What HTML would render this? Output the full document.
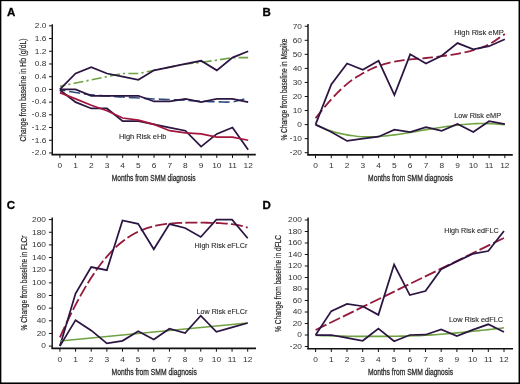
<!DOCTYPE html><html><head><meta charset="utf-8"><style>html,body{margin:0;padding:0;background:#fff;width:520px;height:384px;overflow:hidden}svg{display:block;will-change:transform}text{font-family:"Liberation Sans", sans-serif}</style></head><body>
<svg width="520" height="384" viewBox="0 0 520 384">
<rect width="520" height="384" fill="#fff"/>
<line x1="52.3" y1="24.3" x2="52.3" y2="155.15" stroke="#111" stroke-width="1.45"/>
<line x1="51.65" y1="154.65" x2="255.8" y2="154.65" stroke="#111" stroke-width="1.6"/>
<line x1="49" y1="25.84" x2="52.3" y2="25.84" stroke="#111" stroke-width="1"/>
<text transform="translate(46.5,28.09) scale(1,0.86)" font-size="8.4" text-anchor="end" fill="#333">2.0</text>
<line x1="49" y1="38.55" x2="52.3" y2="38.55" stroke="#111" stroke-width="1"/>
<text transform="translate(46.5,40.8) scale(1,0.86)" font-size="8.4" text-anchor="end" fill="#333">1.6</text>
<line x1="49" y1="51.26" x2="52.3" y2="51.26" stroke="#111" stroke-width="1"/>
<text transform="translate(46.5,53.51) scale(1,0.86)" font-size="8.4" text-anchor="end" fill="#333">1.2</text>
<line x1="49" y1="63.98" x2="52.3" y2="63.98" stroke="#111" stroke-width="1"/>
<text transform="translate(46.5,66.23) scale(1,0.86)" font-size="8.4" text-anchor="end" fill="#333">0.8</text>
<line x1="49" y1="76.69" x2="52.3" y2="76.69" stroke="#111" stroke-width="1"/>
<text transform="translate(46.5,78.94) scale(1,0.86)" font-size="8.4" text-anchor="end" fill="#333">0.4</text>
<line x1="49" y1="89.4" x2="52.3" y2="89.4" stroke="#111" stroke-width="1"/>
<text transform="translate(46.5,91.65) scale(1,0.86)" font-size="8.4" text-anchor="end" fill="#333">0.0</text>
<line x1="49" y1="102.11" x2="52.3" y2="102.11" stroke="#111" stroke-width="1"/>
<text transform="translate(46.5,104.36) scale(1,0.86)" font-size="8.4" text-anchor="end" fill="#333"><tspan font-size="6.2" dy="-1.25" stroke="#333" stroke-width="0.25">-</tspan><tspan dx="0.7" dy="1.25">0.4</tspan></text>
<line x1="49" y1="114.82" x2="52.3" y2="114.82" stroke="#111" stroke-width="1"/>
<text transform="translate(46.5,117.07) scale(1,0.86)" font-size="8.4" text-anchor="end" fill="#333"><tspan font-size="6.2" dy="-1.25" stroke="#333" stroke-width="0.25">-</tspan><tspan dx="0.7" dy="1.25">0.8</tspan></text>
<line x1="49" y1="127.54" x2="52.3" y2="127.54" stroke="#111" stroke-width="1"/>
<text transform="translate(46.5,129.79) scale(1,0.86)" font-size="8.4" text-anchor="end" fill="#333"><tspan font-size="6.2" dy="-1.25" stroke="#333" stroke-width="0.25">-</tspan><tspan dx="0.7" dy="1.25">1.2</tspan></text>
<line x1="49" y1="140.25" x2="52.3" y2="140.25" stroke="#111" stroke-width="1"/>
<text transform="translate(46.5,142.5) scale(1,0.86)" font-size="8.4" text-anchor="end" fill="#333"><tspan font-size="6.2" dy="-1.25" stroke="#333" stroke-width="0.25">-</tspan><tspan dx="0.7" dy="1.25">1.6</tspan></text>
<line x1="49" y1="152.96" x2="52.3" y2="152.96" stroke="#111" stroke-width="1"/>
<text transform="translate(46.5,155.21) scale(1,0.86)" font-size="8.4" text-anchor="end" fill="#333"><tspan font-size="6.2" dy="-1.25" stroke="#333" stroke-width="0.25">-</tspan><tspan dx="0.7" dy="1.25">2.0</tspan></text>
<line x1="59.9" y1="154.65" x2="59.9" y2="157.95" stroke="#111" stroke-width="1"/>
<text transform="translate(59.9,168) scale(1,0.86)" font-size="8.4" text-anchor="middle" fill="#333">0</text>
<line x1="75.59" y1="154.65" x2="75.59" y2="157.95" stroke="#111" stroke-width="1"/>
<text transform="translate(75.59,168) scale(1,0.86)" font-size="8.4" text-anchor="middle" fill="#333">1</text>
<line x1="91.28" y1="154.65" x2="91.28" y2="157.95" stroke="#111" stroke-width="1"/>
<text transform="translate(91.28,168) scale(1,0.86)" font-size="8.4" text-anchor="middle" fill="#333">2</text>
<line x1="106.97" y1="154.65" x2="106.97" y2="157.95" stroke="#111" stroke-width="1"/>
<text transform="translate(106.97,168) scale(1,0.86)" font-size="8.4" text-anchor="middle" fill="#333">3</text>
<line x1="122.66" y1="154.65" x2="122.66" y2="157.95" stroke="#111" stroke-width="1"/>
<text transform="translate(122.66,168) scale(1,0.86)" font-size="8.4" text-anchor="middle" fill="#333">4</text>
<line x1="138.35" y1="154.65" x2="138.35" y2="157.95" stroke="#111" stroke-width="1"/>
<text transform="translate(138.35,168) scale(1,0.86)" font-size="8.4" text-anchor="middle" fill="#333">5</text>
<line x1="154.04" y1="154.65" x2="154.04" y2="157.95" stroke="#111" stroke-width="1"/>
<text transform="translate(154.04,168) scale(1,0.86)" font-size="8.4" text-anchor="middle" fill="#333">6</text>
<line x1="169.73" y1="154.65" x2="169.73" y2="157.95" stroke="#111" stroke-width="1"/>
<text transform="translate(169.73,168) scale(1,0.86)" font-size="8.4" text-anchor="middle" fill="#333">7</text>
<line x1="185.42" y1="154.65" x2="185.42" y2="157.95" stroke="#111" stroke-width="1"/>
<text transform="translate(185.42,168) scale(1,0.86)" font-size="8.4" text-anchor="middle" fill="#333">8</text>
<line x1="201.11" y1="154.65" x2="201.11" y2="157.95" stroke="#111" stroke-width="1"/>
<text transform="translate(201.11,168) scale(1,0.86)" font-size="8.4" text-anchor="middle" fill="#333">9</text>
<line x1="216.8" y1="154.65" x2="216.8" y2="157.95" stroke="#111" stroke-width="1"/>
<text transform="translate(216.8,168) scale(1,0.86)" font-size="8.4" text-anchor="middle" fill="#333">10</text>
<line x1="232.49" y1="154.65" x2="232.49" y2="157.95" stroke="#111" stroke-width="1"/>
<text transform="translate(232.49,168) scale(1,0.86)" font-size="8.4" text-anchor="middle" fill="#333">11</text>
<line x1="248.18" y1="154.65" x2="248.18" y2="157.95" stroke="#111" stroke-width="1"/>
<text transform="translate(248.18,168) scale(1,0.86)" font-size="8.4" text-anchor="middle" fill="#333">12</text>
<text x="6.9" y="15.8" font-size="11.5" text-anchor="start" font-weight="bold" fill="#000" stroke="#000" stroke-width="0.3">A</text>
<polyline points="59.9,86.22 75.59,83.04 91.28,79.87 106.97,76.69 122.66,73.51 138.35,73.51 154.04,70.33 169.73,67.15 185.42,63.98 201.11,62.39 216.8,60.16 232.49,57.62 248.18,57.62" fill="none" stroke="#70a243" stroke-width="1.6" stroke-linejoin="miter" stroke-miterlimit="10" stroke-dasharray="10,3.2,2.2,3.2" stroke-dashoffset="4.7"/>
<polyline points="59.9,89.4 75.59,73.51 91.28,67.15 106.97,73.51 122.66,76.69 138.35,79.87 154.04,70.33 169.73,67.15 185.42,63.98 201.11,60.8 216.8,70.33 232.49,57.62 248.18,51.26" fill="none" stroke="#2c1542" stroke-width="1.75" stroke-linejoin="miter" stroke-miterlimit="10" />
<polyline points="59.9,89.72 63.04,90.3 66.18,90.89 69.31,91.48 72.45,92.05 75.59,92.58 78.73,93.08 81.87,93.56 85,94.01 88.14,94.43 91.28,94.8 94.42,95.12 97.56,95.39 100.69,95.63 103.83,95.86 106.97,96.07 110.11,96.28 113.25,96.48 116.38,96.66 119.52,96.84 122.66,97.03 125.8,97.22 128.94,97.41 132.07,97.6 135.21,97.79 138.35,97.98 141.49,98.18 144.63,98.38 147.76,98.58 150.9,98.76 154.04,98.93 157.18,99.08 160.32,99.21 163.45,99.33 166.59,99.45 169.73,99.57 172.87,99.69 176.01,99.81 179.14,99.93 182.28,100.06 185.42,100.21 188.56,100.38 191.7,100.58 194.83,100.78 197.97,100.98 201.11,101.16 204.25,101.32 207.39,101.47 210.52,101.6 213.66,101.71 216.8,101.79 219.94,101.9 223.08,102.02 226.21,102.1 229.35,102.05 232.49,101.79 235.63,101.28 238.77,100.54 241.9,99.69 245.04,98.8 248.18,97.98" fill="none" stroke="#2f4b7c" stroke-width="1.6" stroke-linejoin="miter" stroke-miterlimit="10" stroke-dasharray="11,4" stroke-dashoffset="5.6"/>
<polyline points="59.9,89.4 75.59,89.4 91.28,95.76 106.97,95.76 122.66,95.76 138.35,95.76 154.04,101.48 169.73,101.48 185.42,98.93 201.11,102.11 216.8,98.93 232.49,98.93 248.18,102.11" fill="none" stroke="#2c1542" stroke-width="1.75" stroke-linejoin="miter" stroke-miterlimit="10" />
<polyline points="59.9,90.04 75.59,102.11 91.28,108.47 106.97,108.47 122.66,121.18 138.35,121.18 154.04,124.36 169.73,127.54 185.42,130.71 201.11,146.6 216.8,133.89 232.49,127.54 248.18,149.78" fill="none" stroke="#2c1542" stroke-width="1.75" stroke-linejoin="miter" stroke-miterlimit="10" />
<polyline points="59.9,92.58 75.59,98.93 91.28,105.29 106.97,110.69 122.66,118 138.35,120.23 154.04,124.36 169.73,130.71 185.42,132.94 201.11,133.89 216.8,137.07 232.49,137.07 248.18,140.25" fill="none" stroke="#a3173d" stroke-width="1.75" stroke-linejoin="miter" stroke-miterlimit="10" />
<text x="118.9" y="138.6" font-size="7.6" text-anchor="start" font-weight="normal" fill="#2a2a2a" textLength="47.6" lengthAdjust="spacingAndGlyphs" stroke="#2a2a2a" stroke-width="0.12">High Risk eHb</text>
<text transform="translate(26.1,90.1) rotate(-90)" font-size="9.3" text-anchor="middle" fill="#2a2a2a" stroke="#2a2a2a" stroke-width="0.22" textLength="103" lengthAdjust="spacingAndGlyphs">Change from baseline in Hb (g/dL)</text>
<text x="153.6" y="181.4" font-size="9.7" text-anchor="middle" font-weight="normal" fill="#2a2a2a" textLength="83.8" lengthAdjust="spacingAndGlyphs" stroke="#2a2a2a" stroke-width="0.3">Months from SMM diagnosis</text>
<line x1="308" y1="23.9" x2="308" y2="155.35" stroke="#111" stroke-width="1.45"/>
<line x1="307.35" y1="154.85" x2="512.8" y2="154.85" stroke="#111" stroke-width="1.6"/>
<line x1="304.7" y1="26.25" x2="308" y2="26.25" stroke="#111" stroke-width="1"/>
<text transform="translate(302,28.5) scale(1,0.86)" font-size="8.4" text-anchor="end" fill="#333">70</text>
<line x1="304.7" y1="40.3" x2="308" y2="40.3" stroke="#111" stroke-width="1"/>
<text transform="translate(302,42.55) scale(1,0.86)" font-size="8.4" text-anchor="end" fill="#333">60</text>
<line x1="304.7" y1="54.35" x2="308" y2="54.35" stroke="#111" stroke-width="1"/>
<text transform="translate(302,56.6) scale(1,0.86)" font-size="8.4" text-anchor="end" fill="#333">50</text>
<line x1="304.7" y1="68.4" x2="308" y2="68.4" stroke="#111" stroke-width="1"/>
<text transform="translate(302,70.65) scale(1,0.86)" font-size="8.4" text-anchor="end" fill="#333">40</text>
<line x1="304.7" y1="82.45" x2="308" y2="82.45" stroke="#111" stroke-width="1"/>
<text transform="translate(302,84.7) scale(1,0.86)" font-size="8.4" text-anchor="end" fill="#333">30</text>
<line x1="304.7" y1="96.5" x2="308" y2="96.5" stroke="#111" stroke-width="1"/>
<text transform="translate(302,98.75) scale(1,0.86)" font-size="8.4" text-anchor="end" fill="#333">20</text>
<line x1="304.7" y1="110.55" x2="308" y2="110.55" stroke="#111" stroke-width="1"/>
<text transform="translate(302,112.8) scale(1,0.86)" font-size="8.4" text-anchor="end" fill="#333">10</text>
<line x1="304.7" y1="124.6" x2="308" y2="124.6" stroke="#111" stroke-width="1"/>
<text transform="translate(302,126.85) scale(1,0.86)" font-size="8.4" text-anchor="end" fill="#333">0</text>
<line x1="304.7" y1="138.65" x2="308" y2="138.65" stroke="#111" stroke-width="1"/>
<text transform="translate(302,140.9) scale(1,0.86)" font-size="8.4" text-anchor="end" fill="#333"><tspan font-size="6.2" dy="-1.25" stroke="#333" stroke-width="0.25">-</tspan><tspan dx="0.7" dy="1.25">10</tspan></text>
<line x1="304.7" y1="152.7" x2="308" y2="152.7" stroke="#111" stroke-width="1"/>
<text transform="translate(302,154.95) scale(1,0.86)" font-size="8.4" text-anchor="end" fill="#333"><tspan font-size="6.2" dy="-1.25" stroke="#333" stroke-width="0.25">-</tspan><tspan dx="0.7" dy="1.25">20</tspan></text>
<line x1="315.5" y1="154.85" x2="315.5" y2="158.15" stroke="#111" stroke-width="1"/>
<text transform="translate(315.5,168.1) scale(1,0.86)" font-size="8.4" text-anchor="middle" fill="#333">0</text>
<line x1="331.28" y1="154.85" x2="331.28" y2="158.15" stroke="#111" stroke-width="1"/>
<text transform="translate(331.28,168.1) scale(1,0.86)" font-size="8.4" text-anchor="middle" fill="#333">1</text>
<line x1="347.06" y1="154.85" x2="347.06" y2="158.15" stroke="#111" stroke-width="1"/>
<text transform="translate(347.06,168.1) scale(1,0.86)" font-size="8.4" text-anchor="middle" fill="#333">2</text>
<line x1="362.84" y1="154.85" x2="362.84" y2="158.15" stroke="#111" stroke-width="1"/>
<text transform="translate(362.84,168.1) scale(1,0.86)" font-size="8.4" text-anchor="middle" fill="#333">3</text>
<line x1="378.62" y1="154.85" x2="378.62" y2="158.15" stroke="#111" stroke-width="1"/>
<text transform="translate(378.62,168.1) scale(1,0.86)" font-size="8.4" text-anchor="middle" fill="#333">4</text>
<line x1="394.4" y1="154.85" x2="394.4" y2="158.15" stroke="#111" stroke-width="1"/>
<text transform="translate(394.4,168.1) scale(1,0.86)" font-size="8.4" text-anchor="middle" fill="#333">5</text>
<line x1="410.18" y1="154.85" x2="410.18" y2="158.15" stroke="#111" stroke-width="1"/>
<text transform="translate(410.18,168.1) scale(1,0.86)" font-size="8.4" text-anchor="middle" fill="#333">6</text>
<line x1="425.96" y1="154.85" x2="425.96" y2="158.15" stroke="#111" stroke-width="1"/>
<text transform="translate(425.96,168.1) scale(1,0.86)" font-size="8.4" text-anchor="middle" fill="#333">7</text>
<line x1="441.74" y1="154.85" x2="441.74" y2="158.15" stroke="#111" stroke-width="1"/>
<text transform="translate(441.74,168.1) scale(1,0.86)" font-size="8.4" text-anchor="middle" fill="#333">8</text>
<line x1="457.52" y1="154.85" x2="457.52" y2="158.15" stroke="#111" stroke-width="1"/>
<text transform="translate(457.52,168.1) scale(1,0.86)" font-size="8.4" text-anchor="middle" fill="#333">9</text>
<line x1="473.3" y1="154.85" x2="473.3" y2="158.15" stroke="#111" stroke-width="1"/>
<text transform="translate(473.3,168.1) scale(1,0.86)" font-size="8.4" text-anchor="middle" fill="#333">10</text>
<line x1="489.08" y1="154.85" x2="489.08" y2="158.15" stroke="#111" stroke-width="1"/>
<text transform="translate(489.08,168.1) scale(1,0.86)" font-size="8.4" text-anchor="middle" fill="#333">11</text>
<line x1="504.86" y1="154.85" x2="504.86" y2="158.15" stroke="#111" stroke-width="1"/>
<text transform="translate(504.86,168.1) scale(1,0.86)" font-size="8.4" text-anchor="middle" fill="#333">12</text>
<text x="262.4" y="15.75" font-size="11.5" text-anchor="start" font-weight="bold" fill="#000" stroke="#000" stroke-width="0.3">B</text>
<polyline points="315.5,118.28 318.66,114.43 321.81,110.52 324.97,106.64 328.12,102.88 331.28,99.31 334.44,95.92 337.59,92.64 340.75,89.51 343.9,86.58 347.06,83.85 350.22,81.38 353.37,79.14 356.53,77.07 359.68,75.15 362.84,73.32 366,71.58 369.15,69.96 372.31,68.47 375.46,67.1 378.62,65.87 381.78,64.79 384.93,63.86 388.09,63.05 391.24,62.32 394.4,61.66 397.56,61.07 400.71,60.57 403.87,60.15 407.02,59.77 410.18,59.41 413.34,59.08 416.49,58.81 419.65,58.55 422.8,58.3 425.96,58 429.12,57.67 432.27,57.33 435.43,56.97 438.58,56.58 441.74,56.18 444.9,55.75 448.05,55.32 451.21,54.86 454.36,54.36 457.52,53.79 460.68,53.17 463.83,52.53 466.99,51.82 470.14,51.03 473.3,50.13 476.46,49.17 479.61,48.15 482.77,47.02 485.92,45.73 489.08,44.23 492.24,42.46 495.39,40.44 498.55,38.29 501.7,36.1 504.86,33.98" fill="none" stroke="#931a3b" stroke-width="1.8" stroke-linejoin="miter" stroke-miterlimit="10" stroke-dasharray="10.5,3.7" />
<polyline points="315.5,124.6 331.28,84.42 347.06,63.48 362.84,69.8 378.62,60.81 394.4,95.09 410.18,54.35 425.96,63.62 441.74,55.75 457.52,43.11 473.3,49.29 489.08,46.2 504.86,39.32" fill="none" stroke="#2c1542" stroke-width="1.75" stroke-linejoin="miter" stroke-miterlimit="10" />
<polyline points="315.5,124.6 318.66,125.94 321.81,127.31 324.97,128.67 328.12,129.94 331.28,131.06 334.44,132.02 337.59,132.87 340.75,133.61 343.9,134.27 347.06,134.86 350.22,135.38 353.37,135.82 356.53,136.19 359.68,136.48 362.84,136.68 366,136.81 369.15,136.84 372.31,136.8 375.46,136.7 378.62,136.54 381.78,136.32 384.93,136.01 388.09,135.66 391.24,135.26 394.4,134.86 397.56,134.43 400.71,133.97 403.87,133.49 407.02,132.98 410.18,132.47 413.34,131.93 416.49,131.35 419.65,130.77 422.8,130.2 425.96,129.66 429.12,129.15 432.27,128.66 435.43,128.18 438.58,127.72 441.74,127.27 444.9,126.82 448.05,126.37 451.21,125.94 454.36,125.53 457.52,125.16 460.68,124.82 463.83,124.49 466.99,124.19 470.14,123.95 473.3,123.76 476.46,123.63 479.61,123.56 482.77,123.53 485.92,123.55 489.08,123.62 492.24,123.74 495.39,123.93 498.55,124.15 501.7,124.39 504.86,124.6" fill="none" stroke="#70a243" stroke-width="1.6" stroke-linejoin="miter" stroke-miterlimit="10" />
<polyline points="315.5,124.6 331.28,131.91 347.06,140.9 362.84,138.65 378.62,136.68 394.4,129.66 410.18,132.05 425.96,127.27 441.74,130.78 457.52,124.04 473.3,132.05 489.08,121.23 504.86,124.04" fill="none" stroke="#2c1542" stroke-width="1.75" stroke-linejoin="miter" stroke-miterlimit="10" />
<text x="454.2" y="35" font-size="7.6" text-anchor="start" font-weight="normal" fill="#2a2a2a" textLength="49.6" lengthAdjust="spacingAndGlyphs" stroke="#2a2a2a" stroke-width="0.12">High Risk eMP</text>
<text x="454.2" y="117.5" font-size="7.6" text-anchor="start" font-weight="normal" fill="#2a2a2a" textLength="46.9" lengthAdjust="spacingAndGlyphs" stroke="#2a2a2a" stroke-width="0.12">Low Risk eMP</text>
<text transform="translate(286.6,89.6) rotate(-90)" font-size="8.9" text-anchor="middle" fill="#2a2a2a" stroke="#2a2a2a" stroke-width="0.22" textLength="102" lengthAdjust="spacingAndGlyphs">% Change from baseline in Mspike</text>
<text x="410.5" y="181.4" font-size="9.7" text-anchor="middle" font-weight="normal" fill="#2a2a2a" textLength="84.8" lengthAdjust="spacingAndGlyphs" stroke="#2a2a2a" stroke-width="0.3">Months from SMM diagnosis</text>
<line x1="52.2" y1="217.5" x2="52.2" y2="348.9" stroke="#111" stroke-width="1.45"/>
<line x1="51.55" y1="348.4" x2="256" y2="348.4" stroke="#111" stroke-width="1.6"/>
<line x1="48.9" y1="219.6" x2="52.2" y2="219.6" stroke="#111" stroke-width="1"/>
<text transform="translate(46,221.85) scale(1,0.86)" font-size="8.4" text-anchor="end" fill="#333">200</text>
<line x1="48.9" y1="232.25" x2="52.2" y2="232.25" stroke="#111" stroke-width="1"/>
<text transform="translate(46,234.5) scale(1,0.86)" font-size="8.4" text-anchor="end" fill="#333">180</text>
<line x1="48.9" y1="244.9" x2="52.2" y2="244.9" stroke="#111" stroke-width="1"/>
<text transform="translate(46,247.15) scale(1,0.86)" font-size="8.4" text-anchor="end" fill="#333">160</text>
<line x1="48.9" y1="257.55" x2="52.2" y2="257.55" stroke="#111" stroke-width="1"/>
<text transform="translate(46,259.8) scale(1,0.86)" font-size="8.4" text-anchor="end" fill="#333">140</text>
<line x1="48.9" y1="270.2" x2="52.2" y2="270.2" stroke="#111" stroke-width="1"/>
<text transform="translate(46,272.45) scale(1,0.86)" font-size="8.4" text-anchor="end" fill="#333">120</text>
<line x1="48.9" y1="282.85" x2="52.2" y2="282.85" stroke="#111" stroke-width="1"/>
<text transform="translate(46,285.1) scale(1,0.86)" font-size="8.4" text-anchor="end" fill="#333">100</text>
<line x1="48.9" y1="295.5" x2="52.2" y2="295.5" stroke="#111" stroke-width="1"/>
<text transform="translate(46,297.75) scale(1,0.86)" font-size="8.4" text-anchor="end" fill="#333">80</text>
<line x1="48.9" y1="308.15" x2="52.2" y2="308.15" stroke="#111" stroke-width="1"/>
<text transform="translate(46,310.4) scale(1,0.86)" font-size="8.4" text-anchor="end" fill="#333">60</text>
<line x1="48.9" y1="320.8" x2="52.2" y2="320.8" stroke="#111" stroke-width="1"/>
<text transform="translate(46,323.05) scale(1,0.86)" font-size="8.4" text-anchor="end" fill="#333">40</text>
<line x1="48.9" y1="333.45" x2="52.2" y2="333.45" stroke="#111" stroke-width="1"/>
<text transform="translate(46,335.7) scale(1,0.86)" font-size="8.4" text-anchor="end" fill="#333">20</text>
<line x1="48.9" y1="346.1" x2="52.2" y2="346.1" stroke="#111" stroke-width="1"/>
<text transform="translate(46,348.35) scale(1,0.86)" font-size="8.4" text-anchor="end" fill="#333">0</text>
<line x1="59.9" y1="348.4" x2="59.9" y2="351.7" stroke="#111" stroke-width="1"/>
<text transform="translate(59.9,362) scale(1,0.86)" font-size="8.4" text-anchor="middle" fill="#333">0</text>
<line x1="75.55" y1="348.4" x2="75.55" y2="351.7" stroke="#111" stroke-width="1"/>
<text transform="translate(75.55,362) scale(1,0.86)" font-size="8.4" text-anchor="middle" fill="#333">1</text>
<line x1="91.2" y1="348.4" x2="91.2" y2="351.7" stroke="#111" stroke-width="1"/>
<text transform="translate(91.2,362) scale(1,0.86)" font-size="8.4" text-anchor="middle" fill="#333">2</text>
<line x1="106.85" y1="348.4" x2="106.85" y2="351.7" stroke="#111" stroke-width="1"/>
<text transform="translate(106.85,362) scale(1,0.86)" font-size="8.4" text-anchor="middle" fill="#333">3</text>
<line x1="122.5" y1="348.4" x2="122.5" y2="351.7" stroke="#111" stroke-width="1"/>
<text transform="translate(122.5,362) scale(1,0.86)" font-size="8.4" text-anchor="middle" fill="#333">4</text>
<line x1="138.15" y1="348.4" x2="138.15" y2="351.7" stroke="#111" stroke-width="1"/>
<text transform="translate(138.15,362) scale(1,0.86)" font-size="8.4" text-anchor="middle" fill="#333">5</text>
<line x1="153.8" y1="348.4" x2="153.8" y2="351.7" stroke="#111" stroke-width="1"/>
<text transform="translate(153.8,362) scale(1,0.86)" font-size="8.4" text-anchor="middle" fill="#333">6</text>
<line x1="169.45" y1="348.4" x2="169.45" y2="351.7" stroke="#111" stroke-width="1"/>
<text transform="translate(169.45,362) scale(1,0.86)" font-size="8.4" text-anchor="middle" fill="#333">7</text>
<line x1="185.1" y1="348.4" x2="185.1" y2="351.7" stroke="#111" stroke-width="1"/>
<text transform="translate(185.1,362) scale(1,0.86)" font-size="8.4" text-anchor="middle" fill="#333">8</text>
<line x1="200.75" y1="348.4" x2="200.75" y2="351.7" stroke="#111" stroke-width="1"/>
<text transform="translate(200.75,362) scale(1,0.86)" font-size="8.4" text-anchor="middle" fill="#333">9</text>
<line x1="216.4" y1="348.4" x2="216.4" y2="351.7" stroke="#111" stroke-width="1"/>
<text transform="translate(216.4,362) scale(1,0.86)" font-size="8.4" text-anchor="middle" fill="#333">10</text>
<line x1="232.05" y1="348.4" x2="232.05" y2="351.7" stroke="#111" stroke-width="1"/>
<text transform="translate(232.05,362) scale(1,0.86)" font-size="8.4" text-anchor="middle" fill="#333">11</text>
<line x1="247.7" y1="348.4" x2="247.7" y2="351.7" stroke="#111" stroke-width="1"/>
<text transform="translate(247.7,362) scale(1,0.86)" font-size="8.4" text-anchor="middle" fill="#333">12</text>
<text x="6.8" y="209.1" font-size="11.5" text-anchor="start" font-weight="bold" fill="#000" stroke="#000" stroke-width="0.3">C</text>
<polyline points="59.9,337.27 63.03,330.47 66.16,323.82 69.29,317.34 72.42,311.04 75.55,304.93 78.68,299.03 81.81,293.36 84.94,287.91 88.07,282.7 91.2,277.72 94.33,273 97.46,268.52 100.59,264.29 103.72,260.3 106.85,256.57 109.98,253.08 113.11,249.83 116.24,246.81 119.37,244.02 122.5,241.46 125.63,239.11 128.76,236.97 131.89,235.03 135.02,233.28 138.15,231.71 141.28,230.3 144.41,229.06 147.54,227.97 150.67,227.02 153.8,226.19 156.93,225.49 160.06,224.89 163.19,224.38 166.32,223.97 169.45,223.62 172.58,223.35 175.71,223.14 178.84,222.97 181.97,222.85 185.1,222.76 188.23,222.7 191.36,222.67 194.49,222.65 197.62,222.65 200.75,222.67 203.88,222.7 207.01,222.75 210.14,222.81 213.27,222.89 216.4,223 219.53,223.13 222.66,223.31 225.79,223.53 228.92,223.81 232.05,224.17 235.18,224.62 238.31,225.17 241.44,225.85 244.57,226.68 247.7,227.68" fill="none" stroke="#931a3b" stroke-width="1.8" stroke-linejoin="miter" stroke-miterlimit="10" stroke-dasharray="12,3.2" />
<polyline points="59.9,346.1 75.55,293.6 91.2,267.04 106.85,270.2 122.5,220.49 138.15,223.77 153.8,249.33 169.45,224.03 185.1,228.01 200.75,236.99 216.4,219.6 232.05,219.6 247.7,238.26" fill="none" stroke="#2c1542" stroke-width="1.75" stroke-linejoin="miter" stroke-miterlimit="10" />
<polyline points="59.9,341.04 247.7,323.01" fill="none" stroke="#70a243" stroke-width="1.6" stroke-linejoin="miter" stroke-miterlimit="10" />
<polyline points="59.9,346.1 75.55,320.17 91.2,330.41 106.85,343.32 122.5,340.79 138.15,331.24 153.8,339.52 169.45,328.77 185.1,333.01 200.75,315.74 216.4,331.74 232.05,327.38 247.7,323.01" fill="none" stroke="#2c1542" stroke-width="1.75" stroke-linejoin="miter" stroke-miterlimit="10" />
<text x="194.6" y="247.5" font-size="7.6" text-anchor="start" font-weight="normal" fill="#2a2a2a" textLength="52.7" lengthAdjust="spacingAndGlyphs" stroke="#2a2a2a" stroke-width="0.12">High Risk eFLCr</text>
<text x="196.6" y="313.5" font-size="7.6" text-anchor="start" font-weight="normal" fill="#2a2a2a" textLength="50.7" lengthAdjust="spacingAndGlyphs" stroke="#2a2a2a" stroke-width="0.12">Low Risk eFLCr</text>
<text transform="translate(26.8,283) rotate(-90)" font-size="9.3" text-anchor="middle" fill="#2a2a2a" stroke="#2a2a2a" stroke-width="0.22" textLength="95" lengthAdjust="spacingAndGlyphs">% Change from baseline in FLCr</text>
<text x="154.2" y="375.2" font-size="9.7" text-anchor="middle" font-weight="normal" fill="#2a2a2a" textLength="85.3" lengthAdjust="spacingAndGlyphs" stroke="#2a2a2a" stroke-width="0.3">Months from SMM diagnosis</text>
<line x1="308.1" y1="217.5" x2="308.1" y2="349.2" stroke="#111" stroke-width="1.45"/>
<line x1="307.45" y1="348.7" x2="513" y2="348.7" stroke="#111" stroke-width="1.6"/>
<line x1="304.8" y1="220" x2="308.1" y2="220" stroke="#111" stroke-width="1"/>
<text transform="translate(302,222.25) scale(1,0.86)" font-size="8.4" text-anchor="end" fill="#333">200</text>
<line x1="304.8" y1="231.5" x2="308.1" y2="231.5" stroke="#111" stroke-width="1"/>
<text transform="translate(302,233.75) scale(1,0.86)" font-size="8.4" text-anchor="end" fill="#333">180</text>
<line x1="304.8" y1="243" x2="308.1" y2="243" stroke="#111" stroke-width="1"/>
<text transform="translate(302,245.25) scale(1,0.86)" font-size="8.4" text-anchor="end" fill="#333">160</text>
<line x1="304.8" y1="254.5" x2="308.1" y2="254.5" stroke="#111" stroke-width="1"/>
<text transform="translate(302,256.75) scale(1,0.86)" font-size="8.4" text-anchor="end" fill="#333">140</text>
<line x1="304.8" y1="266" x2="308.1" y2="266" stroke="#111" stroke-width="1"/>
<text transform="translate(302,268.25) scale(1,0.86)" font-size="8.4" text-anchor="end" fill="#333">120</text>
<line x1="304.8" y1="277.5" x2="308.1" y2="277.5" stroke="#111" stroke-width="1"/>
<text transform="translate(302,279.75) scale(1,0.86)" font-size="8.4" text-anchor="end" fill="#333">100</text>
<line x1="304.8" y1="289" x2="308.1" y2="289" stroke="#111" stroke-width="1"/>
<text transform="translate(302,291.25) scale(1,0.86)" font-size="8.4" text-anchor="end" fill="#333">80</text>
<line x1="304.8" y1="300.5" x2="308.1" y2="300.5" stroke="#111" stroke-width="1"/>
<text transform="translate(302,302.75) scale(1,0.86)" font-size="8.4" text-anchor="end" fill="#333">60</text>
<line x1="304.8" y1="312" x2="308.1" y2="312" stroke="#111" stroke-width="1"/>
<text transform="translate(302,314.25) scale(1,0.86)" font-size="8.4" text-anchor="end" fill="#333">40</text>
<line x1="304.8" y1="323.5" x2="308.1" y2="323.5" stroke="#111" stroke-width="1"/>
<text transform="translate(302,325.75) scale(1,0.86)" font-size="8.4" text-anchor="end" fill="#333">20</text>
<line x1="304.8" y1="335" x2="308.1" y2="335" stroke="#111" stroke-width="1"/>
<text transform="translate(302,337.25) scale(1,0.86)" font-size="8.4" text-anchor="end" fill="#333">0</text>
<line x1="304.8" y1="346.5" x2="308.1" y2="346.5" stroke="#111" stroke-width="1"/>
<text transform="translate(302,348.75) scale(1,0.86)" font-size="8.4" text-anchor="end" fill="#333"><tspan font-size="6.2" dy="-1.25" stroke="#333" stroke-width="0.25">-</tspan><tspan dx="0.7" dy="1.25">20</tspan></text>
<line x1="315.6" y1="348.7" x2="315.6" y2="352" stroke="#111" stroke-width="1"/>
<text transform="translate(315.6,362) scale(1,0.86)" font-size="8.4" text-anchor="middle" fill="#333">0</text>
<line x1="331.3" y1="348.7" x2="331.3" y2="352" stroke="#111" stroke-width="1"/>
<text transform="translate(331.3,362) scale(1,0.86)" font-size="8.4" text-anchor="middle" fill="#333">1</text>
<line x1="347" y1="348.7" x2="347" y2="352" stroke="#111" stroke-width="1"/>
<text transform="translate(347,362) scale(1,0.86)" font-size="8.4" text-anchor="middle" fill="#333">2</text>
<line x1="362.7" y1="348.7" x2="362.7" y2="352" stroke="#111" stroke-width="1"/>
<text transform="translate(362.7,362) scale(1,0.86)" font-size="8.4" text-anchor="middle" fill="#333">3</text>
<line x1="378.4" y1="348.7" x2="378.4" y2="352" stroke="#111" stroke-width="1"/>
<text transform="translate(378.4,362) scale(1,0.86)" font-size="8.4" text-anchor="middle" fill="#333">4</text>
<line x1="394.1" y1="348.7" x2="394.1" y2="352" stroke="#111" stroke-width="1"/>
<text transform="translate(394.1,362) scale(1,0.86)" font-size="8.4" text-anchor="middle" fill="#333">5</text>
<line x1="409.8" y1="348.7" x2="409.8" y2="352" stroke="#111" stroke-width="1"/>
<text transform="translate(409.8,362) scale(1,0.86)" font-size="8.4" text-anchor="middle" fill="#333">6</text>
<line x1="425.5" y1="348.7" x2="425.5" y2="352" stroke="#111" stroke-width="1"/>
<text transform="translate(425.5,362) scale(1,0.86)" font-size="8.4" text-anchor="middle" fill="#333">7</text>
<line x1="441.2" y1="348.7" x2="441.2" y2="352" stroke="#111" stroke-width="1"/>
<text transform="translate(441.2,362) scale(1,0.86)" font-size="8.4" text-anchor="middle" fill="#333">8</text>
<line x1="456.9" y1="348.7" x2="456.9" y2="352" stroke="#111" stroke-width="1"/>
<text transform="translate(456.9,362) scale(1,0.86)" font-size="8.4" text-anchor="middle" fill="#333">9</text>
<line x1="472.6" y1="348.7" x2="472.6" y2="352" stroke="#111" stroke-width="1"/>
<text transform="translate(472.6,362) scale(1,0.86)" font-size="8.4" text-anchor="middle" fill="#333">10</text>
<line x1="488.3" y1="348.7" x2="488.3" y2="352" stroke="#111" stroke-width="1"/>
<text transform="translate(488.3,362) scale(1,0.86)" font-size="8.4" text-anchor="middle" fill="#333">11</text>
<line x1="504" y1="348.7" x2="504" y2="352" stroke="#111" stroke-width="1"/>
<text transform="translate(504,362) scale(1,0.86)" font-size="8.4" text-anchor="middle" fill="#333">12</text>
<text x="262.4" y="208.9" font-size="11.5" text-anchor="start" font-weight="bold" fill="#000" stroke="#000" stroke-width="0.3">D</text>
<polyline points="315.6,329.94 504,237.94" fill="none" stroke="#931a3b" stroke-width="1.8" stroke-linejoin="miter" stroke-miterlimit="10" stroke-dasharray="12,3.2" />
<polyline points="315.6,335 331.3,311.14 347,303.95 362.7,306.25 378.4,314.88 394.1,264.56 409.8,295.04 425.5,291.01 441.2,269.22 456.9,261.4 472.6,253.93 488.3,251.05 504,230.93" fill="none" stroke="#2c1542" stroke-width="1.75" stroke-linejoin="miter" stroke-miterlimit="10" />
<polyline points="315.6,335.46 318.74,335.54 321.88,335.62 325.02,335.71 328.16,335.79 331.3,335.86 334.44,335.94 337.58,336.01 340.72,336.08 343.86,336.15 347,336.21 350.14,336.26 353.28,336.3 356.42,336.33 359.56,336.36 362.7,336.38 365.84,336.39 368.98,336.4 372.12,336.4 375.26,336.39 378.4,336.38 381.54,336.37 384.68,336.35 387.82,336.33 390.96,336.3 394.1,336.26 397.24,336.22 400.38,336.16 403.52,336.09 406.66,336.01 409.8,335.92 412.94,335.82 416.08,335.71 419.22,335.58 422.36,335.44 425.5,335.29 428.64,335.11 431.78,334.92 434.92,334.71 438.06,334.49 441.2,334.25 444.34,334 447.48,333.74 450.62,333.46 453.76,333.17 456.9,332.87 460.04,332.57 463.18,332.25 466.32,331.92 469.46,331.59 472.6,331.26 475.74,330.93 478.88,330.61 482.02,330.27 485.16,329.94 488.3,329.6 491.44,329.25 494.58,328.89 497.72,328.53 500.86,328.17 504,327.81" fill="none" stroke="#70a243" stroke-width="1.6" stroke-linejoin="miter" stroke-miterlimit="10" />
<polyline points="315.6,335 331.3,335 347,337.88 362.7,340.75 378.4,328.68 394.1,341.21 409.8,335 425.5,334.71 441.2,329.42 456.9,335.98 472.6,329.88 488.3,324.31 504,332.01" fill="none" stroke="#2c1542" stroke-width="1.75" stroke-linejoin="miter" stroke-miterlimit="10" />
<text x="444.2" y="233" font-size="7.6" text-anchor="start" font-weight="normal" fill="#2a2a2a" textLength="54.4" lengthAdjust="spacingAndGlyphs" stroke="#2a2a2a" stroke-width="0.12">High Risk edFLC</text>
<text x="449" y="321.5" font-size="7.6" text-anchor="start" font-weight="normal" fill="#2a2a2a" textLength="54.1" lengthAdjust="spacingAndGlyphs" stroke="#2a2a2a" stroke-width="0.12">Low Risk edFLC</text>
<text transform="translate(281,283.4) rotate(-90)" font-size="9.3" text-anchor="middle" fill="#2a2a2a" stroke="#2a2a2a" stroke-width="0.22" textLength="97" lengthAdjust="spacingAndGlyphs">% Change from baseline in dFLC</text>
<text x="410.5" y="375.2" font-size="9.7" text-anchor="middle" font-weight="normal" fill="#2a2a2a" textLength="85.1" lengthAdjust="spacingAndGlyphs" stroke="#2a2a2a" stroke-width="0.3">Months from SMM diagnosis</text>
<rect x="0" y="0" width="520" height="1.15" fill="#000"/>
<rect x="0" y="0" width="1.35" height="384" fill="#000"/>
<rect x="518.55" y="0" width="1.45" height="384" fill="#000"/>
<rect x="0" y="382.45" width="520" height="1.55" fill="#000"/>
</svg></body></html>
